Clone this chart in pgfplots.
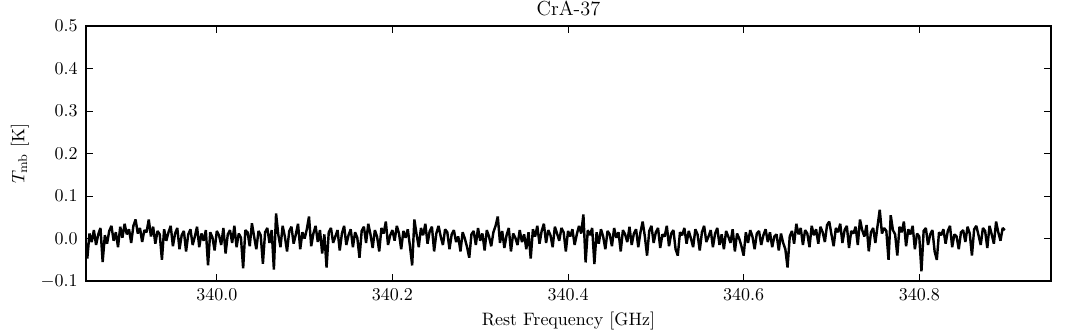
\documentclass[border=0pt]{standalone}
\usepackage{pgfplots}
\pgfplotsset{compat=1.18}
\begin{document}
\begin{tikzpicture}
\begin{axis}[
  name=ax,
  scale only axis, width=536.5pt, height=141.8pt,
  xmin=339.851, xmax=340.95, ymin=-0.1, ymax=0.5,
  xtick={340.0,340.2,340.4,340.6,340.8},
  ytick={-0.1,0,0.1,0.2,0.3,0.4,0.5},
  scaled ticks=false,
  xticklabel style={anchor=base, yshift=-10.8pt, inner sep=0pt,
    /pgf/number format/fixed, /pgf/number format/fixed zerofill,
    /pgf/number format/precision=1, /pgf/number format/1000 sep={}},
  yticklabel style={anchor=east, xshift=-4.4pt, inner sep=0pt,
    /pgf/number format/fixed, /pgf/number format/fixed zerofill,
    /pgf/number format/precision=1},
  tick align=inside, major tick length=3.9pt, minor tick num=0,
  axis line style={line width=1pt},
  every tick/.style={black, line width=0.5pt},
  xlabel={Rest Frequency [GHz]},
  xlabel style={at={(0.5,0)}, anchor=base, yshift=-24.5pt, inner sep=0pt},
  ylabel={$T_{\mathrm{mb}}$ [K]},
  ylabel style={at={(0,0.5)}, anchor=center, yshift=36.7pt, inner sep=0pt},
  clip mode=individual,
]
\addplot[black, line width=1.35pt, line join=miter, miter limit=2] coordinates {
(339.8500,0.005)(339.8525,-0.047)(339.8550,0.012)(339.8575,-0.008)(339.8600,0.020)(339.8625,-0.015)(339.8650,0.010)(339.8675,0.025)(339.8700,-0.055)(339.8725,0.008)
(339.8750,-0.012)(339.8775,0.018)(339.8800,0.030)(339.8825,-0.005)(339.8850,0.015)(339.8875,-0.020)(339.8900,0.028)(339.8925,0.002)(339.8950,0.035)(339.8975,0.010)
(339.9000,0.022)(339.9025,-0.010)(339.9050,0.030)(339.9075,0.045)(339.9100,0.012)(339.9125,0.025)(339.9150,-0.008)(339.9175,0.020)(339.9200,0.015)(339.9225,0.045)
(339.9250,0.005)(339.9275,0.028)(339.9300,-0.012)(339.9325,0.018)(339.9350,0.010)(339.9375,-0.050)(339.9400,0.022)(339.9425,-0.005)(339.9450,0.015)(339.9475,0.030)
(339.9500,-0.018)(339.9525,0.012)(339.9550,0.025)(339.9575,-0.025)(339.9600,0.008)(339.9625,0.018)(339.9650,-0.030)(339.9675,0.010)(339.9700,0.022)(339.9725,-0.015)
(339.9750,0.005)(339.9775,0.028)(339.9800,-0.020)(339.9825,0.012)(339.9850,-0.005)(339.9875,0.020)(339.9900,-0.063)(339.9925,0.015)(339.9950,0.003)(339.9975,-0.028)
(340.0000,0.018)(340.0025,0.008)(340.0050,-0.015)(340.0075,0.025)(340.0100,-0.035)(340.0125,0.010)(340.0150,0.020)(340.0175,-0.010)(340.0200,0.030)(340.0225,-0.020)
(340.0250,0.012)(340.0275,0.002)(340.0300,-0.070)(340.0325,0.020)(340.0350,0.015)(340.0375,-0.018)(340.0400,0.036)(340.0425,0.005)(340.0450,-0.025)(340.0475,0.018)
(340.0500,0.008)(340.0525,-0.059)(340.0550,0.015)(340.0575,0.025)(340.0600,-0.010)(340.0625,0.020)(340.0650,-0.073)(340.0675,0.059)(340.0700,0.010)(340.0725,-0.020)
(340.0750,0.030)(340.0775,0.005)(340.0800,-0.030)(340.0825,0.018)(340.0850,0.028)(340.0875,-0.012)(340.0900,0.010)(340.0925,0.035)(340.0950,-0.025)(340.0975,0.015)
(340.1000,0.000)(340.1025,0.022)(340.1050,0.052)(340.1075,-0.018)(340.1100,0.012)(340.1125,0.030)(340.1150,-0.008)(340.1175,0.020)(340.1200,-0.035)(340.1225,0.010)
(340.1250,-0.068)(340.1275,0.015)(340.1300,0.025)(340.1325,-0.010)(340.1350,0.005)(340.1375,0.020)(340.1400,-0.028)(340.1425,0.012)(340.1450,0.030)(340.1475,-0.015)
(340.1500,0.008)(340.1525,0.022)(340.1550,-0.020)(340.1575,0.015)(340.1600,0.002)(340.1625,-0.045)(340.1650,0.018)(340.1675,0.028)(340.1700,-0.010)(340.1725,0.035)
(340.1750,0.010)(340.1775,-0.022)(340.1800,0.020)(340.1825,0.005)(340.1850,-0.030)(340.1875,0.025)(340.1900,0.012)(340.1925,0.040)(340.1950,-0.015)(340.1975,0.008)
(340.2000,0.020)(340.2025,-0.005)(340.2050,0.030)(340.2075,0.012)(340.2100,-0.025)(340.2125,0.018)(340.2150,0.002)(340.2175,0.022)(340.2200,-0.018)(340.2225,-0.063)
(340.2250,0.045)(340.2275,0.010)(340.2300,-0.020)(340.2325,0.025)(340.2350,0.008)(340.2375,0.035)(340.2400,-0.012)(340.2425,0.018)(340.2450,0.028)(340.2475,-0.030)
(340.2500,0.012)(340.2525,0.030)(340.2550,0.005)(340.2575,-0.015)(340.2600,0.022)(340.2625,0.015)(340.2650,-0.025)(340.2675,0.010)(340.2700,0.020)(340.2725,-0.008)
(340.2750,0.005)(340.2775,-0.030)(340.2800,0.015)(340.2825,0.000)(340.2850,-0.020)(340.2875,-0.045)(340.2900,0.010)(340.2925,0.018)(340.2950,-0.015)(340.2975,0.025)
(340.3000,-0.005)(340.3025,0.012)(340.3050,-0.028)(340.3075,0.020)(340.3100,0.005)(340.3125,-0.018)(340.3150,0.015)(340.3175,0.030)(340.3200,0.052)(340.3225,-0.010)
(340.3250,0.018)(340.3275,-0.022)(340.3300,0.008)(340.3325,0.025)(340.3350,-0.030)(340.3375,0.012)(340.3400,0.002)(340.3425,-0.015)(340.3450,0.020)(340.3475,-0.008)
(340.3500,0.010)(340.3525,-0.025)(340.3550,0.015)(340.3575,-0.047)(340.3600,0.022)(340.3625,0.005)(340.3650,0.030)(340.3675,-0.012)(340.3700,0.018)(340.3725,0.035)
(340.3750,-0.010)(340.3775,0.020)(340.3800,0.008)(340.3825,-0.020)(340.3850,0.028)(340.3875,0.012)(340.3900,-0.005)(340.3925,0.025)(340.3950,0.015)(340.3975,-0.030)
(340.4000,0.018)(340.4025,0.005)(340.4050,0.022)(340.4075,-0.015)(340.4100,0.010)(340.4125,0.030)(340.4150,0.012)(340.4175,0.057)(340.4200,-0.056)(340.4225,0.020)
(340.4250,0.008)(340.4275,0.025)(340.4300,-0.060)(340.4325,0.015)(340.4350,-0.012)(340.4375,0.022)(340.4400,0.005)(340.4425,-0.025)(340.4450,0.018)(340.4475,0.010)
(340.4500,-0.018)(340.4525,0.025)(340.4550,0.002)(340.4575,0.015)(340.4600,-0.030)(340.4625,0.020)(340.4650,0.010)(340.4675,-0.008)(340.4700,0.028)(340.4725,-0.015)
(340.4750,0.012)(340.4775,0.022)(340.4800,-0.020)(340.4825,0.015)(340.4850,0.040)(340.4875,0.005)(340.4900,-0.040)(340.4925,0.018)(340.4950,0.030)(340.4975,-0.010)
(340.5000,0.015)(340.5025,0.025)(340.5050,-0.022)(340.5075,0.010)(340.5100,0.005)(340.5125,0.030)(340.5150,-0.018)(340.5175,0.012)(340.5200,0.020)(340.5225,-0.025)
(340.5250,-0.040)(340.5275,0.015)(340.5300,0.008)(340.5325,0.025)(340.5350,-0.012)(340.5375,0.018)(340.5400,0.000)(340.5425,-0.020)(340.5450,0.022)(340.5475,0.010)
(340.5500,-0.028)(340.5525,0.015)(340.5550,0.030)(340.5575,-0.008)(340.5600,0.005)(340.5625,0.020)(340.5650,-0.020)(340.5675,0.012)(340.5700,0.025)(340.5725,-0.015)
(340.5750,0.010)(340.5775,-0.025)(340.5800,0.018)(340.5825,0.005)(340.5850,-0.010)(340.5875,0.022)(340.5900,-0.030)(340.5925,0.012)(340.5950,0.000)(340.5975,-0.018)
(340.6000,-0.040)(340.6025,0.015)(340.6050,-0.010)(340.6075,0.020)(340.6100,0.005)(340.6125,-0.025)(340.6150,0.012)(340.6175,0.018)(340.6200,-0.015)(340.6225,0.008)
(340.6250,0.022)(340.6275,-0.008)(340.6300,0.015)(340.6325,-0.020)(340.6350,0.005)(340.6375,0.010)(340.6400,-0.028)(340.6425,0.012)(340.6450,-0.010)(340.6475,-0.025)
(340.6500,-0.068)(340.6525,0.005)(340.6550,0.018)(340.6575,-0.012)(340.6600,0.035)(340.6625,0.010)(340.6650,0.025)(340.6675,-0.015)(340.6700,0.020)(340.6725,0.012)
(340.6750,-0.020)(340.6775,0.030)(340.6800,0.008)(340.6825,0.022)(340.6850,-0.012)(340.6875,0.028)(340.6900,0.015)(340.6925,-0.008)(340.6950,0.032)(340.6975,0.040)
(340.7000,0.010)(340.7025,-0.018)(340.7050,0.025)(340.7075,0.015)(340.7100,0.035)(340.7125,-0.010)(340.7150,0.020)(340.7175,0.030)(340.7200,-0.022)(340.7225,0.018)
(340.7250,0.012)(340.7275,0.028)(340.7300,-0.015)(340.7325,0.045)(340.7350,0.020)(340.7375,0.005)(340.7400,0.032)(340.7425,-0.030)(340.7450,0.015)(340.7475,0.025)
(340.7500,-0.010)(340.7525,0.030)(340.7550,0.068)(340.7575,0.012)(340.7600,0.025)(340.7625,0.018)(340.7650,-0.050)(340.7675,0.055)(340.7700,0.020)(340.7725,0.010)
(340.7750,-0.040)(340.7775,0.028)(340.7800,0.015)(340.7825,0.040)(340.7850,-0.018)(340.7875,0.022)(340.7900,0.010)(340.7925,0.030)(340.7950,-0.025)(340.7975,0.012)
(340.8000,0.005)(340.8025,-0.077)(340.8050,0.018)(340.8075,0.025)(340.8100,-0.015)(340.8125,0.010)(340.8150,0.020)(340.8175,-0.030)(340.8200,-0.050)(340.8225,0.015)
(340.8250,0.008)(340.8275,0.022)(340.8300,-0.012)(340.8325,0.018)(340.8350,0.030)(340.8375,-0.020)(340.8400,0.010)(340.8425,0.005)(340.8450,-0.025)(340.8475,0.015)
(340.8500,0.020)(340.8525,-0.008)(340.8550,0.028)(340.8575,0.012)(340.8600,-0.040)(340.8625,0.022)(340.8650,0.030)(340.8675,0.008)(340.8700,-0.015)(340.8725,0.025)
(340.8750,0.018)(340.8775,-0.022)(340.8800,0.030)(340.8825,0.010)(340.8850,-0.012)(340.8875,0.040)(340.8900,0.015)(340.8925,-0.005)(340.8950,0.025)(340.8975,0.020)
};
\node[anchor=base, inner sep=0pt, yshift=6.1pt] at (rel axis cs:0.5,1) {\fontsize{11.3}{13}\selectfont CrA-37};
\end{axis}
\pgfresetboundingbox
\path ([shift={(-47.8pt,-27.8pt)}]ax.south west) rectangle ([shift={(11.7pt,14.5pt)}]ax.north east);
\end{tikzpicture}
\end{document}
